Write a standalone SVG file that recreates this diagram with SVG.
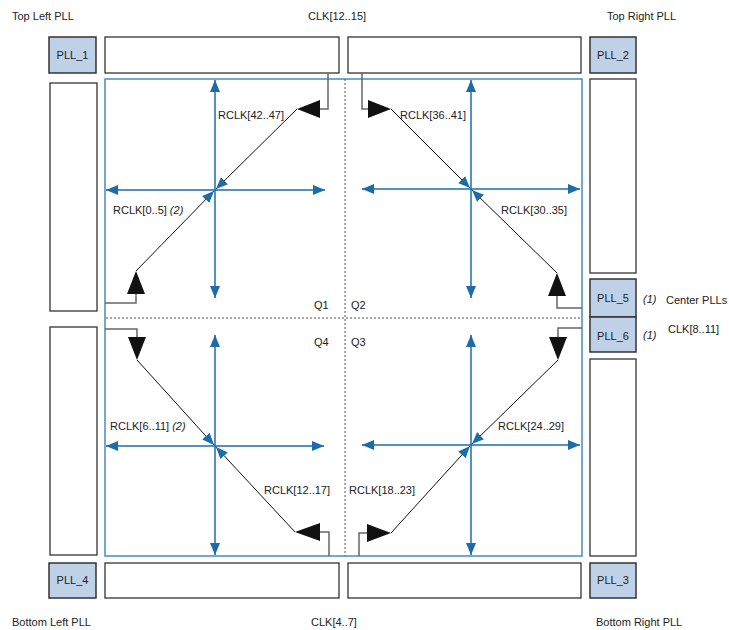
<svg xmlns="http://www.w3.org/2000/svg" width="729" height="630" viewBox="0 0 729 630">
<style>
text{font-family:"Liberation Sans",Arial,sans-serif;font-size:11px;fill:#222}
.it{font-style:italic}
.pll{fill:#bfd1e7;stroke:#333;stroke-width:1.5}
.bank{fill:#fff;stroke:#333;stroke-width:1.3}
.frame{fill:none;stroke:#4a8cc0;stroke-width:1.5}
.dot{stroke:#555;stroke-width:1;stroke-dasharray:2,2;fill:none}
.cross{stroke:#1a6cab;stroke-width:1.5;fill:none;marker-start:url(#ba);marker-end:url(#ba)}
.feed{stroke:#666;stroke-width:1.5;fill:none}
.diag{stroke:#111;stroke-width:1;fill:none;marker-end:url(#ba)}
.tri{fill:#111}
.c{text-anchor:middle}
</style>
<defs>
<marker id="ba" markerUnits="userSpaceOnUse" markerWidth="13" markerHeight="11" refX="12" refY="5" orient="auto-start-reverse" viewBox="0 0 13 11">
<path d="M0,0 L12,5 L0,10 z" fill="#1a6cab"/>
</marker>
</defs>

<g id="labels">
<text x="12" y="20">Top Left PLL</text>
<text x="308" y="20">CLK[12..15]</text>
<text x="607" y="20">Top Right PLL</text>
<text x="12" y="626">Bottom Left PLL</text>
<text x="311" y="626">CLK[4..7]</text>
<text x="596" y="626">Bottom Right PLL</text>
<text x="666" y="304">Center PLLs</text>
<text x="668" y="333">CLK[8..11]</text>
<text x="643" y="303" class="it">(1)</text>
<text x="643" y="339" class="it">(1)</text>
<text x="314" y="309">Q1</text>
<text x="351" y="309">Q2</text>
<text x="314" y="346">Q4</text>
<text x="351" y="346">Q3</text>
<text x="218" y="119">RCLK[42..47]</text>
<text x="400" y="119">RCLK[36..41]</text>
<text x="113" y="214">RCLK[0..5] <tspan class="it">(2)</tspan></text>
<text x="501" y="214">RCLK[30..35]</text>
<text x="110" y="430">RCLK[6..11] <tspan class="it">(2)</tspan></text>
<text x="498" y="430">RCLK[24..29]</text>
<text x="264" y="494">RCLK[12..17]</text>
<text x="349" y="494">RCLK[18..23]</text>
</g>

<g id="pll1"><rect class="pll" x="49" y="37" width="47" height="36"/><text class="c" x="72.5" y="59">PLL_1</text></g>
<g id="pll2"><rect class="pll" x="590" y="37" width="46" height="36"/><text class="c" x="613" y="59">PLL_2</text></g>
<g id="pll3"><rect class="pll" x="590" y="563" width="46" height="35"/><text class="c" x="613" y="584">PLL_3</text></g>
<g id="pll4"><rect class="pll" x="49" y="563" width="47" height="35"/><text class="c" x="72.5" y="584">PLL_4</text></g>
<g id="pll5"><rect class="pll" x="590" y="279" width="46" height="38"/><text class="c" x="613" y="302">PLL_5</text></g>
<g id="pll6"><rect class="pll" x="590" y="317" width="46" height="35"/><text class="c" x="613" y="340">PLL_6</text></g>

<g id="banks">
<rect class="bank" x="105" y="37" width="234" height="36"/>
<rect class="bank" x="348" y="37" width="233" height="36"/>
<rect class="bank" x="105" y="563" width="234" height="35"/>
<rect class="bank" x="348" y="563" width="233" height="35"/>
<rect class="bank" x="50" y="83" width="47" height="228"/>
<rect class="bank" x="50" y="327" width="47" height="228"/>
<rect class="bank" x="590" y="79" width="46" height="194"/>
<rect class="bank" x="590" y="359" width="46" height="197"/>
</g>

<g id="core">
<rect class="frame" x="105" y="79" width="477" height="477"/>
<line class="dot" x1="345" y1="79" x2="345" y2="556"/>
<line class="dot" x1="106" y1="318" x2="581" y2="318"/>
</g>

<g id="connectors">
<line class="cross" x1="215" y1="80" x2="215" y2="298"/>
<line class="cross" x1="106" y1="190" x2="325" y2="190"/>
<line class="cross" x1="471" y1="80" x2="471" y2="298"/>
<line class="cross" x1="362" y1="189" x2="580" y2="189"/>
<line class="cross" x1="215" y1="335" x2="215" y2="555"/>
<line class="cross" x1="106" y1="446" x2="324" y2="446"/>
<line class="cross" x1="471" y1="335" x2="471" y2="555"/>
<line class="cross" x1="362" y1="445" x2="580" y2="445"/>

<path class="feed" d="M328,73 V109 H318"/>
<polygon class="tri" points="297,109 320,100 320,118"/>
<line class="diag" x1="297" y1="109" x2="216" y2="189"/>

<path class="feed" d="M362,73 V109 H371"/>
<polygon class="tri" points="391,109 368,100 368,118"/>
<line class="diag" x1="391" y1="109" x2="470" y2="188"/>

<path class="feed" d="M105,303 H136 V292"/>
<polygon class="tri" points="136,271 127,294 145,294"/>
<line class="diag" x1="136" y1="271" x2="214" y2="191"/>

<path class="feed" d="M582,308 H557 V294"/>
<polygon class="tri" points="557,273 548,296 566,296"/>
<line class="diag" x1="557" y1="273" x2="472" y2="190"/>

<path class="feed" d="M105,329 H137 V340"/>
<polygon class="tri" points="137,360 128,337 146,337"/>
<line class="diag" x1="137" y1="360" x2="214" y2="445"/>

<path class="feed" d="M582,328 H558 V340"/>
<polygon class="tri" points="558,360 549,337 567,337"/>
<line class="diag" x1="558" y1="360" x2="472" y2="444"/>

<path class="feed" d="M329,556 V532 H318"/>
<polygon class="tri" points="295,532 320,523 320,541"/>
<line class="diag" x1="295" y1="532" x2="216" y2="447"/>

<path class="feed" d="M359,556 V533 H370"/>
<polygon class="tri" points="391,533 367,524 367,542"/>
<line class="diag" x1="391" y1="533" x2="470" y2="446"/>
</g>
</svg>
